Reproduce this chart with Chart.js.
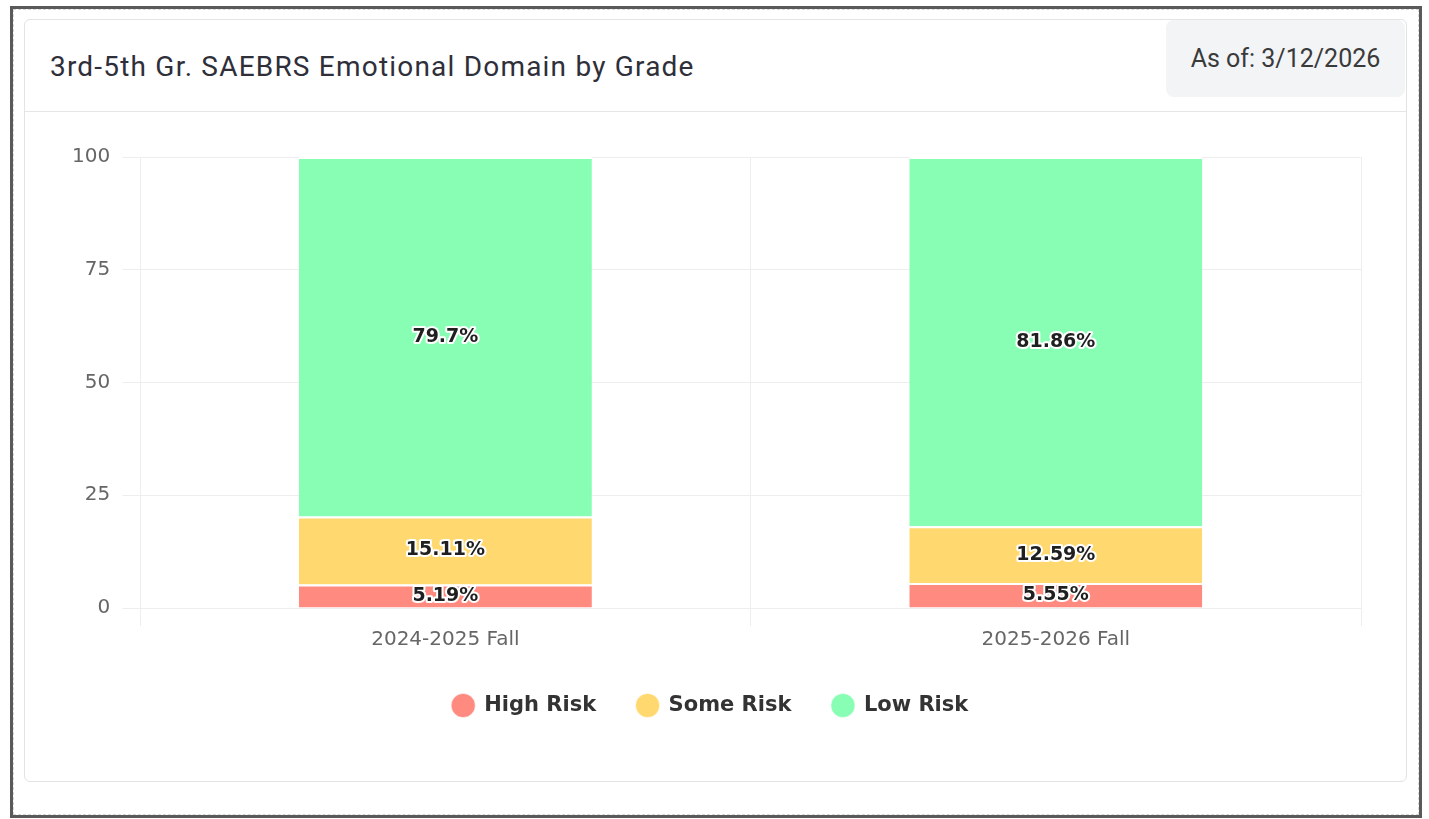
<!DOCTYPE html>
<html>
<head>
<meta charset="utf-8">
<script src="https://cdn.jsdelivr.net/npm/chart.js@4/dist/chart.umd.min.js"></script>
<style>
  html, body { margin: 0; padding: 0; background: #fff; }
  body { width: 1429px; height: 819px; position: relative; overflow: hidden; }
  .frame {
    position: absolute; left: 10px; top: 6px; width: 1406px; height: 806px;
    border: 3px solid #5a5a5a; box-sizing: content-box;
  }
  .inner {
    position: absolute; left: 0; top: 0; right: 0; bottom: 0;
    border: 1px dashed #d8d8d8;
  }
  .card {
    position: absolute; left: 24px; top: 19px; width: 1381px; height: 761px;
    border: 1px solid #e3e3e3; border-radius: 6px; background: #fff;
  }
  .head {
    position: absolute; left: 0; top: 0; right: 0; height: 91px;
    border-bottom: 1px solid #e6e6e6;
  }
  .title {
    position: absolute; left: 25px; top: 30px;
    font-family: Roboto, "Noto Sans", sans-serif; font-size: 28px; letter-spacing: 1.2px; color: #2f2f3a;
  }
  .asof {
    position: absolute; right: 1px; top: 0; width: 239px; height: 77px;
    background: #f3f4f6; border-radius: 8px;
    font-family: Roboto, "Noto Sans", sans-serif; font-size: 25px; color: #3a3a3a;
    line-height: 77px; text-align: center;
  }
  .plot { position: absolute; left: 24px; top: 112px; width: 1383px; height: 668px; }
</style>
</head>
<body>
<div class="frame"><div class="inner"></div></div>
<div class="card">
  <div class="head">
    <div class="title">3rd-5th Gr. SAEBRS Emotional Domain by Grade</div>
    <div class="asof">As of: 3/12/2026</div>
  </div>
</div>
<div class="plot"><canvas id="chart"></canvas></div>
<script>
const terms = ['2024-2025 Fall', '2025-2026 Fall'];
const highRisk = [5.19, 5.55];
const someRisk = [15.11, 12.59];
const lowRisk = [79.7, 81.86];
const yTicks = [0, 25, 50, 75, 100];

// draws the % text in the middle of each bar segment
const segmentLabels = {
    id: 'segmentLabels',
    afterDatasetsDraw(chart) {
        const ctx = chart.ctx;
        ctx.save();
        ctx.font = 'bold 19px "DejaVu Sans"';
        ctx.textAlign = 'center';
        ctx.textBaseline = 'middle';
        ctx.lineJoin = 'round';
        chart.data.datasets.forEach(function(ds, i) {
            chart.getDatasetMeta(i).data.forEach(function(bar, j) {
                const txt = ds.data[j] + '%';
                const y = (bar.y + bar.base) / 2;
                ctx.lineWidth = 4;
                ctx.strokeStyle = '#fff';
                ctx.strokeText(txt, bar.x, y);
                ctx.fillStyle = '#1f1f1f';
                ctx.fillText(txt, bar.x, y);
            });
        });
        ctx.restore();
    }
};

new Chart(document.getElementById('chart'), {
    type: 'bar',
    data: {
        labels: terms,
        datasets: [
            { label: 'High Risk', data: highRisk, backgroundColor: '#ff8a80' },
            { label: 'Some Risk', data: someRisk, backgroundColor: '#ffd970' },
            { label: 'Low Risk', data: lowRisk, backgroundColor: '#88feb4' }
        ].map(function(d) {
            return Object.assign(d, {
                borderColor: '#fff',
                borderWidth: { top: 2, left: 0, right: 0, bottom: 0 },
                borderSkipped: false,
                barPercentage: 0.8,
                categoryPercentage: 0.6
            });
        })
    },
    options: {
        responsive: true,
        maintainAspectRatio: false,
        animation: false,
        layout: { padding: { left: 36, right: 46, top: 45, bottom: 54 } },
        scales: {
            x: {
                stacked: true,
                grid: { color: '#eeeeee', tickLength: 18 },
                border: { color: '#eeeeee' },
                ticks: { color: '#666', font: { family: 'DejaVu Sans', size: 20 }, padding: 2 }
            },
            y: {
                stacked: true,
                min: 0,
                max: 100,
                afterBuildTicks(axis) { axis.ticks = yTicks.map(v => ({ value: v })); },
                grid: { color: '#eeeeee', tickLength: 18 },
                border: { color: '#eeeeee' },
                ticks: { color: '#666', font: { family: 'DejaVu Sans', size: 20 }, padding: 12 }
            }
        },
        plugins: {
            legend: {
                position: 'bottom',
                labels: {
                    usePointStyle: true,
                    pointStyle: 'circle',
                    boxWidth: 21,
                    boxHeight: 17,
                    padding: 41,
                    color: '#333',
                    font: { family: 'DejaVu Sans', size: 21, weight: 'bold' }
                }
            },
            tooltip: { enabled: false }
        }
    },
    plugins: [segmentLabels]
});
</script>
</body>
</html>
